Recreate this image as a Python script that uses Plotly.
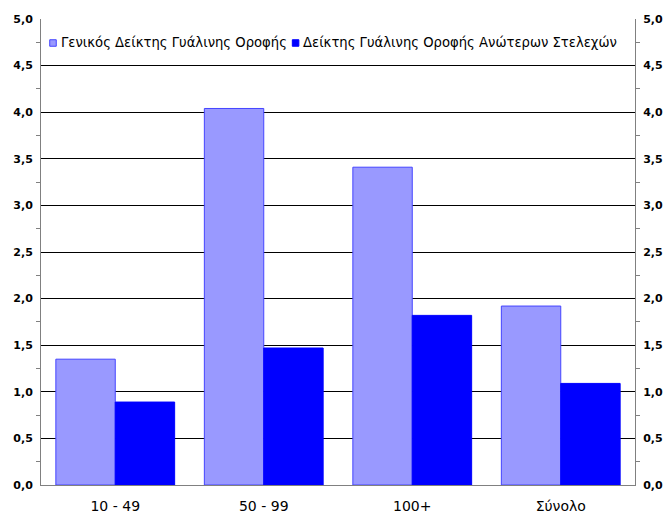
import plotly.graph_objects as go

categories = ["10 - 49", "50 - 99", "100+", "Σύνολο"]
general_index = [1.35, 4.04, 3.41, 1.92]
senior_index = [0.89, 1.47, 1.82, 1.09]
series_names = ["Γενικός Δείκτης Γυάλινης Οροφής",
                "Δείκτης Γυάλινης Οροφής Ανώτερων Στελεχών"]
series_fill = ["#9999ff", "#0000ff"]
series_edge = ["#4444ff", "#0000ff"]

FONT = "DejaVu Sans"
AXIS_GREY = "#808080"

fig = go.Figure()
for vals, name, fill, edge in zip([general_index, senior_index],
                                  series_names, series_fill, series_edge):
    fig.add_trace(go.Bar(
        x=categories, y=vals, name=name, showlegend=False,
        marker=dict(color=fill, line=dict(color=edge, width=1)),
    ))
# invisible trace so the right-hand axis is drawn
fig.add_trace(go.Scatter(x=categories, y=[None] * 4, yaxis="y2",
                         showlegend=False, hoverinfo="skip"))

# compact legend inside the plot: small square swatch followed by the name
legend_items = [(0.0202, 0.0303), (0.4286, 0.4370)]
for (sx, tx), name, fill, edge in zip(legend_items, series_names,
                                      series_fill, series_edge):
    fig.add_shape(type="rect", xref="paper", yref="paper",
                  x0=sx - 0.0055, x1=sx + 0.0055,
                  y0=0.9485 - 0.0070, y1=0.9485 + 0.0070,
                  fillcolor=fill, line=dict(color=edge, width=1))
    fig.add_annotation(x=tx, y=0.9485, xref="paper", yref="paper",
                       text=name, showarrow=False, xanchor="left",
                       yanchor="middle",
                       font=dict(family=FONT, size=13.2, color="black"))

yaxis_common = dict(
    range=[0, 5], dtick=0.5, tickformat=".1f",
    ticks="outside", ticklen=5, tickcolor="rgba(0,0,0,0)",
    minor=dict(dtick=0.25, ticks="outside", ticklen=4, tickcolor=AXIS_GREY,
               showgrid=False),
    showline=True, linecolor=AXIS_GREY, linewidth=1,
    tickfont=dict(family=FONT, size=11, color="black", weight="bold"),
    zeroline=False, automargin=False,
)

fig.update_layout(
    width=667, height=516,
    margin=dict(l=41, r=32, t=19, b=31),
    paper_bgcolor="white", plot_bgcolor="white",
    separators=",.",
    barmode="group", bargap=0.2, bargroupgap=0,
    showlegend=False,
    xaxis=dict(
        showline=True, linecolor=AXIS_GREY, linewidth=1, ticks="",
        tickfont=dict(family=FONT, size=14, color="black"),
        ticklabelstandoff=8, automargin=False,
        showgrid=False,
    ),
    yaxis=dict(**yaxis_common, showgrid=True, gridcolor="black", gridwidth=1),
    yaxis2=dict(**yaxis_common, overlaying="y", side="right", showgrid=False),
)

fig.write_html("out.html")
